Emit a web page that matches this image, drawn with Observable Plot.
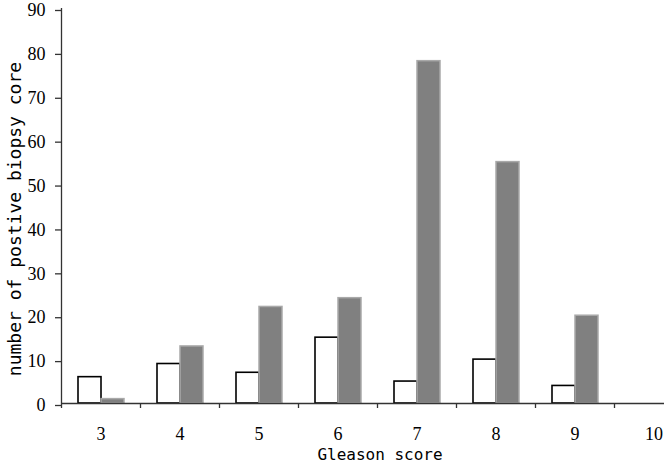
<!DOCTYPE html>
<html>
<head>
<meta charset="utf-8">
<script src="https://cdn.jsdelivr.net/npm/d3@7"></script>
<script src="https://cdn.jsdelivr.net/npm/@observablehq/plot@0.6"></script>
<style>
  html, body { margin: 0; padding: 0; background: #fff; }
  #chart g[aria-label="y-axis tick label"] text,
  #chart g[aria-label="x-axis tick label"] text {
    font-family: "Liberation Serif", "Times New Roman", "DejaVu Serif", serif !important;
  }
  #chart .mono-title text {
    font-family: "DejaVu Sans Mono", "Liberation Mono", monospace !important;
  }
</style>
</head>
<body>
<div id="chart"></div>
<script>
// Categories (Gleason score)
const scores = ["3", "4", "5", "6", "7", "8", "9", "10"];
// Series values (white bars / gray bars); null = no bar
const whiteValues = [6, 9, 7, 15, 5, 10, 4, null];
const grayValues = [1, 13, 22, 24, 78, 55, 20, null];
// Y tick labels
const yTicks = [0, 10, 20, 30, 40, 50, 60, 70, 80, 90];
const yTitle = "number of postive biopsy core";
const xTitle = "Gleason score";

const whiteData = scores.map((s, i) => ({score: s, value: whiteValues[i]})).filter(d => d.value != null);
const grayData = scores.map((s, i) => ({score: s, value: grayValues[i]})).filter(d => d.value != null);

const axisColor = "#333";
const bw = 79; // band width in px (range / categories)

const chart = Plot.plot({
  width: 664,
  height: 462,
  marginLeft: 61,
  marginRight: 0,
  marginTop: 8,
  marginBottom: 59,
  style: {background: "#fff", color: "#000"},
  x: {type: "band", domain: scores, range: [61, 61 + bw * scores.length], padding: 0, axis: null},
  y: {domain: [0, 90], axis: null},
  marks: [
    Plot.barY(whiteData, {x: "score", y: "value", fill: "#fff", stroke: "#000", strokeWidth: 1.6, insetLeft: 17, insetRight: 39}),
    Plot.barY(grayData, {x: "score", y: "value", fill: "#808080", stroke: "#a9a9a9", strokeWidth: 1.5, insetLeft: 40, insetRight: 16}),
    // x axis baseline
    Plot.ruleY([0], {stroke: axisColor, strokeWidth: 1.3}),
    // y axis line
    Plot.ruleX([scores[0]], {dx: -bw / 2, stroke: axisColor, strokeWidth: 1.3}),
    Plot.axisY({ticks: yTicks, tickSize: 6, tickPadding: 10, fontSize: 18, stroke: axisColor, strokeWidth: 1.3, fill: "#000", dy: 2, label: null}),
    // x boundary ticks
    Plot.axisX({ticks: scores, tickSize: 5, tickFormat: () => "", dx: -bw / 2, stroke: axisColor, strokeWidth: 1.3, label: null}),
    // x category labels
    Plot.axisX({ticks: scores, tickSize: 0, tickPadding: 24, fontSize: 18, fill: "#000", label: null}),
    Plot.text([yTitle], {className: "mono-title", frameAnchor: "left", rotate: -90, dx: -41, dy: 13, lineAnchor: "bottom", textAnchor: "middle", fontSize: 18, fill: "#000"}),
    Plot.text([xTitle], {className: "mono-title", frameAnchor: "bottom", dx: 17, dy: 56, lineAnchor: "bottom", textAnchor: "middle", fontSize: 16, fill: "#000"})
  ]
});
chart.querySelectorAll("g").forEach(g => {
  const lab = g.getAttribute("aria-label");
  if (lab === "text") g.classList.add("mono-title");
});
document.getElementById("chart").appendChild(chart);
</script>
</body>
</html>
